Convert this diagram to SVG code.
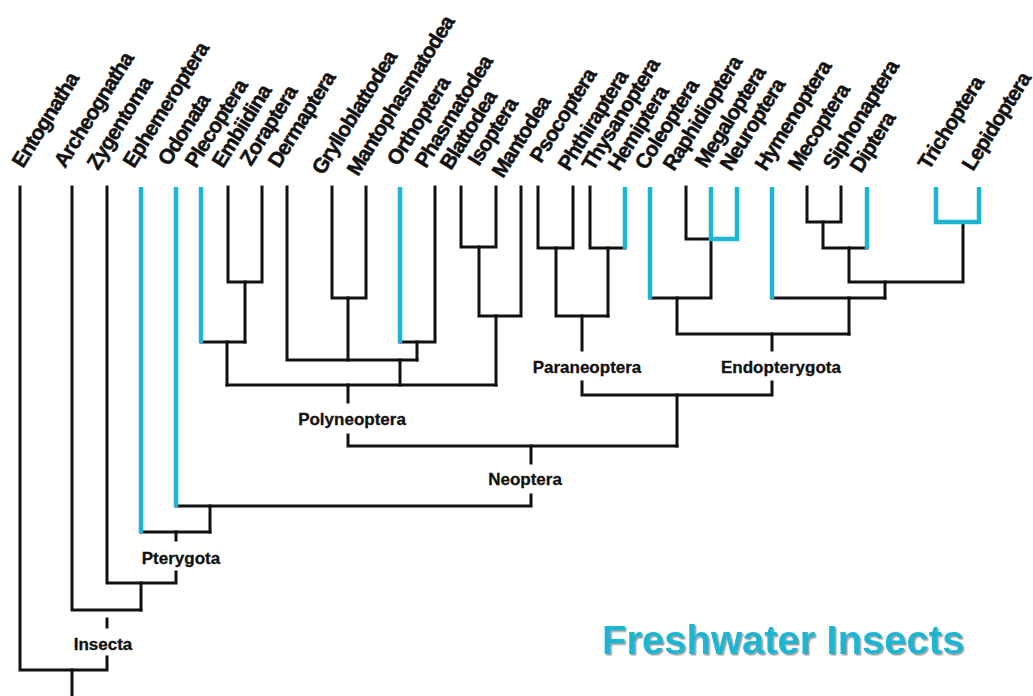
<svg xmlns="http://www.w3.org/2000/svg" width="1033" height="696" viewBox="0 0 1033 696">
<style>
.b{stroke:#111;stroke-width:3;fill:none;stroke-linecap:square;stroke-linejoin:miter}
.c{stroke:#1cb6d3;stroke-width:4.5;fill:none;stroke-linecap:butt;stroke-linejoin:miter}
.t{font-family:"Liberation Sans",Arial,sans-serif;font-weight:bold;font-size:21px;letter-spacing:-0.9px;fill:#111;stroke:#111;stroke-width:0.5px}
.k{font-family:"Liberation Sans",Arial,sans-serif;font-weight:bold;font-size:17px;fill:#111;text-anchor:middle;stroke:#111;stroke-width:0.3px}
.f{font-family:"Liberation Sans",Arial,sans-serif;font-weight:bold;font-size:40px;fill:#1cb6d3}
</style>
<defs>
<filter id="sh" x="-5%" y="-20%" width="110%" height="150%">
<feDropShadow dx="1.5" dy="1.5" stdDeviation="0.6" flood-color="#8a8a8a" flood-opacity="0.8"/>
</filter>
</defs>
<rect width="1033" height="696" fill="#fff"/>
<g id="connectors">
<g class="b">
<path d="M20,187 V670 H107 V657"/>
<path d="M72,670 V696"/>
<path d="M107,619 V627"/>
<path d="M72,187 V610 H141"/>
<path d="M107,187 V583 H176 V572"/>
<path d="M141,583 V610"/>
<path d="M176,532 V540"/>
<path d="M141,532 H210"/>
<path d="M176,506 H531 V495"/>
<path d="M210,506 V532"/>
<path d="M531,446 V463"/>
<path d="M348,435 V446 H677"/>
<path d="M348,385 V402"/>
<path d="M227,385 H496"/>
<path d="M201,342 H245"/>
<path d="M227,342 V385"/>
<path d="M228,187 V282 H262 V187"/>
<path d="M245,282 V342"/>
<path d="M287,187 V360 H417"/>
<path d="M400,360 V385"/>
<path d="M332,187 V298 H366 V187"/>
<path d="M348,298 V360"/>
<path d="M400,342 H435 V187"/>
<path d="M417,342 V360"/>
<path d="M461,187 V247 H496 V187"/>
<path d="M479,247 V316 H521 V187"/>
<path d="M496,316 V385"/>
<path d="M538,187 V248 H573 V187"/>
<path d="M556,248 V316 H608"/>
<path d="M590,187 V248 H625"/>
<path d="M608,248 V316"/>
<path d="M582,316 V350"/>
<path d="M582,382 V395 H772 V382"/>
<path d="M677,395 V446"/>
<path d="M772,334 V350"/>
<path d="M686,187 V239 H711"/>
<path d="M711,239 V298 H650"/>
<path d="M677,298 V334 H849"/>
<path d="M772,298 H885"/>
<path d="M849,298 V334"/>
<path d="M807,187 V222 H841 V187"/>
<path d="M823,222 V248 H867"/>
<path d="M849,248 V282 H963 V222"/>
<path d="M885,282 V298"/>
</g>
<g class="c">
<path d="M141,187 V533"/>
<path d="M176,187 V507"/>
<path d="M201,187 V343"/>
<path d="M400,187 V343"/>
<path d="M625,187 V249"/>
<path d="M650,187 V299"/>
<path d="M711,187 V239 H737 V187"/>
<path d="M772,187 V299"/>
<path d="M867,187 V249"/>
<path d="M936,187 V222 H979 V187"/>
</g>
</g>
<g id="taxa">
<g id="n-entognatha"><text class="t" transform="translate(23,169) rotate(-58)">Entognatha</text></g>
<g id="n-archeognatha"><text class="t" transform="translate(65,169) rotate(-58)">Archeognatha</text></g>
<g id="n-zygentoma"><text class="t" transform="translate(98,171) rotate(-58)">Zygentoma</text></g>
<g id="n-ephemeroptera"><text class="t" transform="translate(134,169) rotate(-58)">Ephemeroptera</text></g>
<g id="n-odonata"><text class="t" transform="translate(169,167) rotate(-58)">Odonata</text></g>
<g id="n-plecoptera"><text class="t" transform="translate(196,169) rotate(-58)">Plecoptera</text></g>
<g id="n-embiidina"><text class="t" transform="translate(223,169) rotate(-58)">Embiidina</text></g>
<g id="n-zoraptera"><text class="t" transform="translate(251,167) rotate(-58)">Zoraptera</text></g>
<g id="n-dermaptera"><text class="t" transform="translate(279,169) rotate(-58)">Dermaptera</text></g>
<g id="n-grylloblattodea"><text class="t" transform="translate(323,176) rotate(-58)">Grylloblattodea</text></g>
<g id="n-mantophasmatodea"><text class="t" transform="translate(358,177) rotate(-58)">Mantophasmatodea</text></g>
<g id="n-orthoptera"><text class="t" transform="translate(398,167) rotate(-58)">Orthoptera</text></g>
<g id="n-phasmatodea"><text class="t" transform="translate(426,169) rotate(-58)">Phasmatodea</text></g>
<g id="n-blattodea"><text class="t" transform="translate(451,171) rotate(-58)">Blattodea</text></g>
<g id="n-isoptera"><text class="t" transform="translate(479,167) rotate(-58)">Isoptera</text></g>
<g id="n-mantodea"><text class="t" transform="translate(503,179) rotate(-58)">Mantodea</text></g>
<g id="n-psocoptera"><text class="t" transform="translate(541,164) rotate(-58)">Psocoptera</text></g>
<g id="n-phthiraptera"><text class="t" transform="translate(569,172) rotate(-58)">Phthiraptera</text></g>
<g id="n-thysanoptera"><text class="t" transform="translate(593,172) rotate(-58)">Thysanoptera</text></g>
<g id="n-hemiptera"><text class="t" transform="translate(619,172) rotate(-58)">Hemiptera</text></g>
<g id="n-coleoptera"><text class="t" transform="translate(646,171) rotate(-58)">Coleoptera</text></g>
<g id="n-raphidioptera"><text class="t" transform="translate(674,172) rotate(-58)">Raphidioptera</text></g>
<g id="n-megaloptera"><text class="t" transform="translate(706,169) rotate(-58)">Megaloptera</text></g>
<g id="n-neuroptera"><text class="t" transform="translate(731,172) rotate(-58)">Neuroptera</text></g>
<g id="n-hymenoptera"><text class="t" transform="translate(766,172) rotate(-58)">Hymenoptera</text></g>
<g id="n-mecoptera"><text class="t" transform="translate(799,172) rotate(-58)">Mecoptera</text></g>
<g id="n-siphonaptera"><text class="t" transform="translate(834,171) rotate(-58)">Siphonaptera</text></g>
<g id="n-diptera"><text class="t" transform="translate(861,174) rotate(-58)">Diptera</text></g>
<g id="n-trichoptera"><text class="t" transform="translate(929,171) rotate(-58)">Trichoptera</text></g>
<g id="n-lepidoptera"><text class="t" transform="translate(973,172) rotate(-58)">Lepidoptera</text></g>
</g>
<g id="clades">
<g id="n-insecta"><text class="k" x="103" y="650">Insecta</text></g>
<g id="n-pterygota"><text class="k" x="181" y="564">Pterygota</text></g>
<g id="n-neoptera"><text class="k" x="525" y="485">Neoptera</text></g>
<g id="n-polyneoptera"><text class="k" x="352" y="425">Polyneoptera</text></g>
<g id="n-paraneoptera"><text class="k" x="587" y="373">Paraneoptera</text></g>
<g id="n-endopterygota"><text class="k" x="781" y="373">Endopterygota</text></g>
</g>
<g id="legend"><text class="f" x="602" y="654" filter="url(#sh)">Freshwater Insects</text></g>
</svg>
